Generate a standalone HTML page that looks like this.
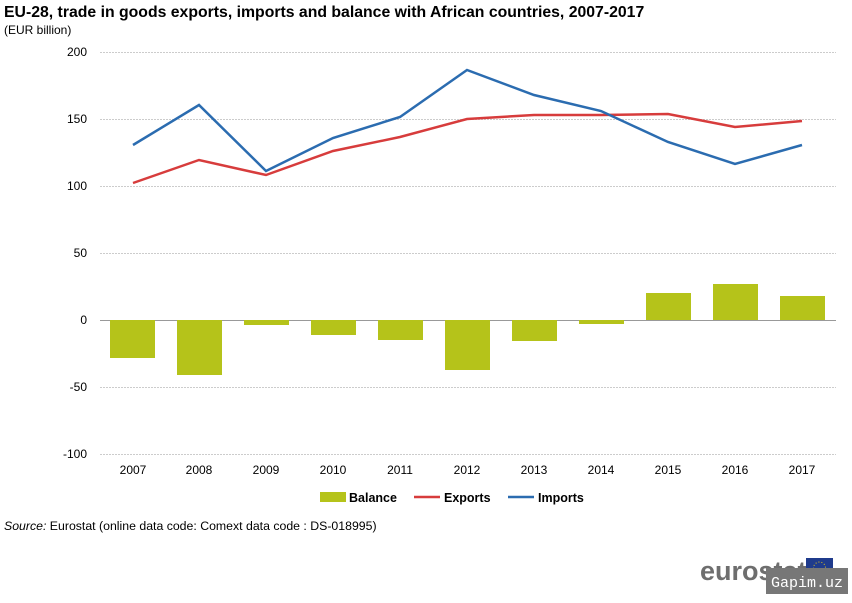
<!DOCTYPE html>
<html><head><style>
body{margin:0;background:#fff;width:852px;height:598px;overflow:hidden;font-family:"Liberation Sans",sans-serif}
</style></head><body>
<svg width="852" height="598" xmlns="http://www.w3.org/2000/svg" font-family="Liberation Sans, sans-serif">
<text x="4" y="17" font-size="15.8" font-weight="bold" fill="#000">EU-28, trade in goods exports, imports and balance with African countries, 2007-2017</text>
<text x="4" y="34" font-size="12" fill="#000">(EUR billion)</text>
<g stroke="#ccc" stroke-dasharray="2,1" stroke-width="1">
<line x1="100" x2="836" y1="52.5" y2="52.5"/><line x1="100" x2="836" y1="119.5" y2="119.5"/>
<line x1="100" x2="836" y1="186.5" y2="186.5"/><line x1="100" x2="836" y1="253.5" y2="253.5"/>
<line x1="100" x2="836" y1="387.5" y2="387.5"/><line x1="100" x2="836" y1="454.5" y2="454.5"/>
</g>
<line x1="100" x2="836" y1="320.5" y2="320.5" stroke="#999"/>
<g font-size="12" fill="#000" text-anchor="end">
<text x="87" y="56">200</text><text x="87" y="123">150</text><text x="87" y="190">100</text>
<text x="87" y="257">50</text><text x="87" y="324">0</text><text x="87" y="391">-50</text><text x="87" y="458">-100</text>
</g>
<g fill="#b5c31a">
<rect x="110" y="320" width="45" height="38"/><rect x="177" y="320" width="45" height="55"/>
<rect x="244" y="320" width="45" height="5"/><rect x="311" y="320" width="45" height="15"/>
<rect x="378" y="320" width="45" height="20"/><rect x="445" y="320" width="45" height="50"/>
<rect x="512" y="320" width="45" height="21"/><rect x="579" y="320" width="45" height="4"/>
<rect x="646" y="293" width="45" height="27"/><rect x="713" y="284" width="45" height="36"/>
<rect x="780" y="296" width="45" height="24"/>
</g>
<polyline fill="none" stroke="#d73c3c" stroke-width="2.5" points="133,183 199,160 266,175 333,151 400,137 467,119 534,115 601,115 668,114 735,127 802,121"/>
<polyline fill="none" stroke="#2b6cb0" stroke-width="2.5" points="133,145 199,105 266,171 333,138 400,117 467,70 534,95 601,111 668,142 735,164 802,145"/>
<g font-size="12" fill="#000" text-anchor="middle">
<text x="133" y="474">2007</text><text x="199" y="474">2008</text><text x="266" y="474">2009</text>
<text x="333" y="474">2010</text><text x="400" y="474">2011</text><text x="467" y="474">2012</text>
<text x="534" y="474">2013</text><text x="601" y="474">2014</text><text x="668" y="474">2015</text>
<text x="735" y="474">2016</text><text x="802" y="474">2017</text>
</g>
<rect x="320" y="492" width="26" height="10" fill="#b5c31a"/>
<text x="349" y="502" font-size="12.5" font-weight="bold">Balance</text>
<line x1="414" x2="440" y1="497" y2="497" stroke="#d73c3c" stroke-width="2.5"/>
<text x="444" y="502" font-size="12.5" font-weight="bold">Exports</text>
<line x1="508" x2="534" y1="497" y2="497" stroke="#2b6cb0" stroke-width="2.5"/>
<text x="538" y="502" font-size="12.5" font-weight="bold">Imports</text>
<text x="4" y="530" font-size="12.3"><tspan font-style="italic">Source:</tspan> Eurostat (online data code: Comext data code : DS-018995)</text>
<text x="700" y="580" font-size="27" font-weight="bold" fill="#6e6e6e">eurostat</text>
<rect x="806" y="558" width="27" height="20" fill="#1f3b8c"/>
<circle cx="819.5" cy="568" r="6" fill="none" stroke="#e6c619" stroke-dasharray="1,2"/>
<rect x="766" y="568" width="82" height="26" fill="#777"/>
<text x="771" y="587" font-size="15" fill="#fff" font-family="Liberation Mono, monospace">Gapim.uz</text>
</svg>
</body></html>
